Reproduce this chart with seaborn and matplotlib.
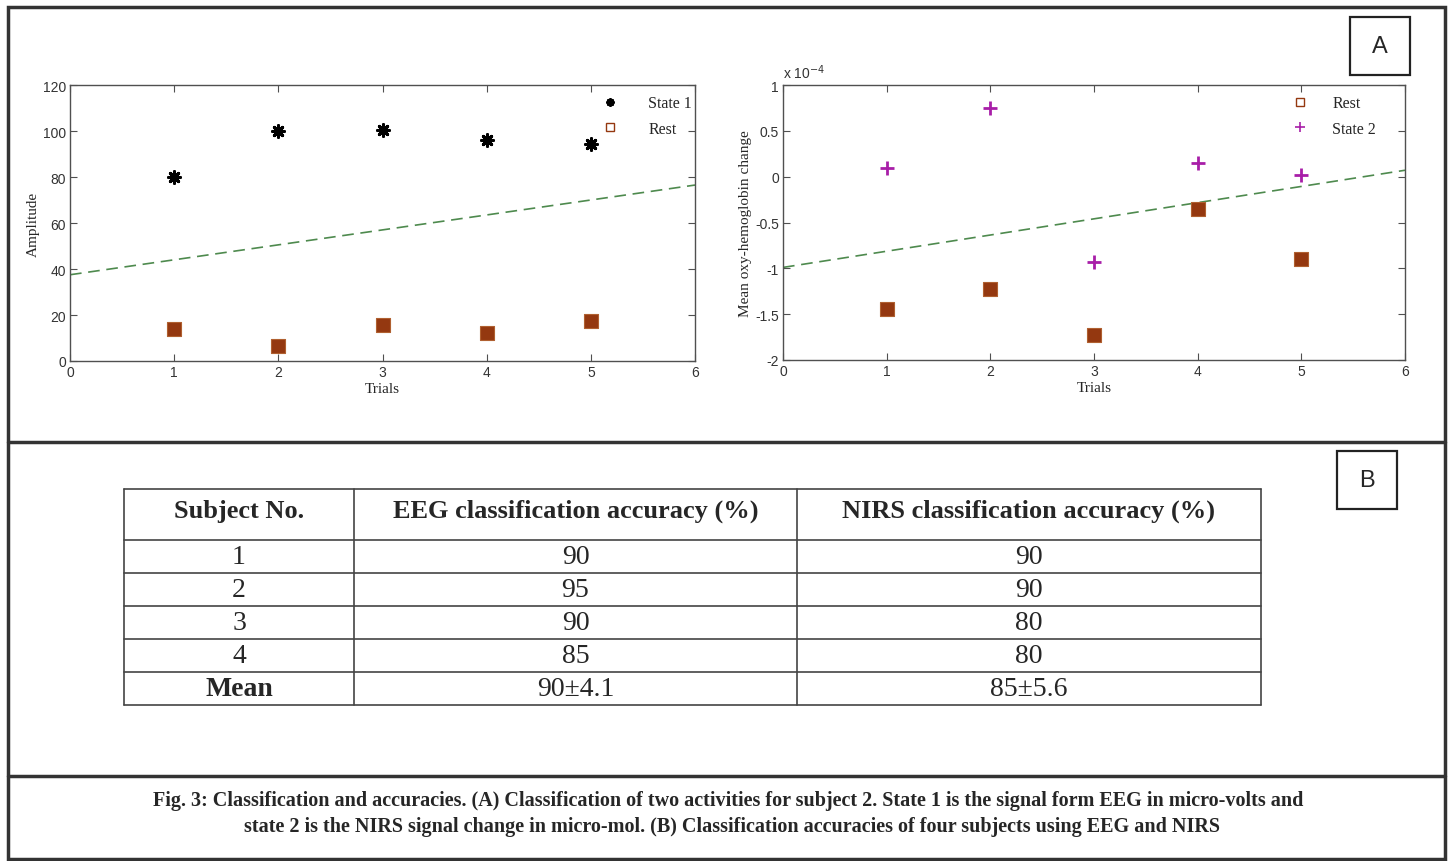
import matplotlib
matplotlib.use("Agg")
import matplotlib.pyplot as plt
from matplotlib.lines import Line2D
from matplotlib.patches import Rectangle
import seaborn as sns
import pandas as pd

# ---------------- data ----------------
trials = [1, 2, 3, 4, 5]
eeg_state1 = [80, 100, 100.5, 96, 94.5]
eeg_rest = [14, 6.5, 15.5, 12, 17.5]
eeg_boundary_x = [0, 6]
eeg_boundary_y = [37.5, 76.5]

# NIRS values in units of 1e-4
nirs_rest = [-1.44, -1.22, -1.73, -0.35, -0.90]
nirs_state2 = [0.10, 0.75, -0.93, 0.15, 0.02]
nirs_boundary_x = [0, 6]
nirs_boundary_y = [-0.99, 0.07]

eeg_yticks = [0, 20, 40, 60, 80, 100, 120]
nirs_yticks = [-2, -1.5, -1, -0.5, 0, 0.5, 1]
nirs_ytick_labels = ["-2", "-1.5", "-1", "-0.5", "0", "0.5", "1"]
xticks = [0, 1, 2, 3, 4, 5, 6]

table_header = ["Subject No.", "EEG classification accuracy (%)", "NIRS classification accuracy (%)"]
subjects = ["1", "2", "3", "4", "Mean"]
eeg_acc = ["90", "95", "90", "85", "90\u00b14.1"]
nirs_acc = ["90", "90", "80", "80", "85\u00b15.6"]

caption_line1 = ("Fig. 3: Classification and accuracies. (A) Classification of two activities for subject 2. "
                 "State 1 is the signal form EEG in micro-volts and")
caption_line2 = ("state 2 is the NIRS signal change in micro-mol. (B) Classification accuracies of four "
                 "subjects using EEG and NIRS")

# ---------------- style ----------------
sns.set_style("white")
plt.rcParams["font.family"] = ["Liberation Serif", "DejaVu Serif"]
plt.rcParams["axes.unicode_minus"] = False

W, H = 1453, 862
fig = plt.figure(figsize=(W / 100, H / 100), dpi=100)

BROWN = "#943810"
MAGENTA = "#a81ea8"
GREEN = "#4e8a4e"
SPINE = "#505050"
TICKFONT = ["Liberation Sans Narrow", "Liberation Sans", "DejaVu Sans"]
ASTERISK = (8, 2, 0)

# background frame
bg = fig.add_axes([0, 0, 1, 1])
bg.set_xlim(0, W)
bg.set_ylim(H, 0)
bg.axis("off")
bg.add_patch(Rectangle((8, 8), W - 16, H - 10, fill=False, lw=2.5, ec="#333333"))
bg.plot([8, W - 8], [443, 443], color="#333333", lw=2.5)
bg.plot([8, W - 8], [777, 777], color="#333333", lw=2.5)
bg.add_patch(Rectangle((1350, 18), 60, 58, fill=False, lw=1.6, ec="#222222"))
bg.text(1380, 47, "A", ha="center", va="center", fontsize=17, family=["Liberation Sans", "DejaVu Sans"])
bg.add_patch(Rectangle((1337, 452), 60, 58, fill=False, lw=1.6, ec="#222222"))
bg.text(1367, 481, "B", ha="center", va="center", fontsize=17, family=["Liberation Sans", "DejaVu Sans"])


def style_axes(ax):
    for s in ax.spines.values():
        s.set_color(SPINE)
        s.set_linewidth(1.0)
    ax.tick_params(direction="in", length=5, width=0.8, color=SPINE, top=True, right=True,
                   labelsize=10, pad=3, bottom=True, left=True)
    for lab in ax.get_xticklabels() + ax.get_yticklabels():
        lab.set_family(TICKFONT)
        lab.set_color("#333333")


# ---------------- left plot (EEG) ----------------
ax1 = fig.add_axes([70 / W, 1 - 362 / H, 625 / W, 276 / H])
df1 = pd.DataFrame({"trial": trials, "state1": eeg_state1, "rest": eeg_rest})
sns.lineplot(x=eeg_boundary_x, y=eeg_boundary_y, ax=ax1, color=GREEN, lw=1.2,
             linestyle=(0, (7, 4)))
sns.scatterplot(data=df1, x="trial", y="state1", ax=ax1, marker=ASTERISK, s=70, color="black",
                edgecolor="black", linewidth=2.2, zorder=3)
sns.scatterplot(data=df1, x="trial", y="rest", ax=ax1, marker="s", s=95, color=BROWN,
                edgecolor="#b06030", linewidth=0.8, zorder=3)
ax1.set_xlim(0, 6)
ax1.set_ylim(0, 120)
ax1.set_xticks(xticks)
ax1.set_yticks(eeg_yticks)
ax1.set_xlabel("Trials", fontsize=11, labelpad=2)
ax1.set_ylabel("Amplitude", fontsize=11, labelpad=2)
style_axes(ax1)
h1 = [Line2D([], [], ls="", marker=ASTERISK, color="black", ms=6, mew=1.5),
      Line2D([], [], ls="", marker="s", mfc="white", mec=BROWN, ms=6, mew=1)]
ax1.legend(h1, ["State 1", "Rest"], loc="upper right", frameon=False, fontsize=11.5,
           handlelength=1.0, handletextpad=1.9, labelspacing=0.6, borderaxespad=0.25,
           bbox_to_anchor=(1.012, 1.0))

# ---------------- right plot (NIRS) ----------------
ax2 = fig.add_axes([783 / W, 1 - 361 / H, 622 / W, 275 / H])
df2 = pd.DataFrame({"trial": trials, "rest": nirs_rest, "state2": nirs_state2})
sns.lineplot(x=nirs_boundary_x, y=nirs_boundary_y, ax=ax2, color=GREEN, lw=1.2,
             linestyle=(0, (7, 4)))
sns.scatterplot(data=df2, x="trial", y="rest", ax=ax2, marker="s", s=95, color=BROWN,
                edgecolor="#b06030", linewidth=0.8, zorder=3)
sns.scatterplot(data=df2, x="trial", y="state2", ax=ax2, marker="+", s=110, color=MAGENTA,
                linewidth=2, zorder=3)
ax2.set_xlim(0, 6)
ax2.set_ylim(-2, 1)
ax2.set_xticks(xticks)
ax2.set_yticks(nirs_yticks)
ax2.set_yticklabels(nirs_ytick_labels)
ax2.set_xlabel("Trials", fontsize=11, labelpad=2)
ax2.set_ylabel("Mean oxy-hemoglobin change", fontsize=11, labelpad=2)
ax2.text(0.0, 1.015, r"x 10$^{-4}$", transform=ax2.transAxes, fontsize=10,
         family=TICKFONT, color="#333333", va="bottom")
style_axes(ax2)
h2 = [Line2D([], [], ls="", marker="s", mfc="white", mec=BROWN, ms=6, mew=1),
      Line2D([], [], ls="", marker="+", color=MAGENTA, ms=7, mew=1.2)]
ax2.legend(h2, ["Rest", "State 2"], loc="upper right", frameon=False, fontsize=11.5,
           handlelength=1.0, handletextpad=1.5, labelspacing=0.6, borderaxespad=0.25,
           bbox_to_anchor=(0.97, 1.0))

# ---------------- table (B) ----------------
tx0, ty0, tx1, ty1 = 124, 490, 1261, 706
axt = fig.add_axes([tx0 / W, 1 - ty1 / H, (tx1 - tx0) / W, (ty1 - ty0) / H])
tw, th = tx1 - tx0, ty1 - ty0
axt.set_xlim(0, tw)
axt.set_ylim(th, 0)
axt.axis("off")
col_edges = [0, 230, 673, tw]
row_edges = [0, 51, 84, 117, 150, 183, th]
for x in col_edges:
    axt.plot([x, x], [0, th], color="#444444", lw=1.2, clip_on=False)
for y in row_edges:
    axt.plot([0, tw], [y, y], color="#444444", lw=1.2, clip_on=False)
for j, txt in enumerate(table_header):
    axt.text((col_edges[j] + col_edges[j + 1]) / 2, (row_edges[0] + row_edges[1]) / 2 - 4, txt,
             ha="center", va="center", fontsize=19, fontweight="bold")
columns = [subjects, eeg_acc, nirs_acc]
for i in range(len(subjects)):
    yc = (row_edges[i + 1] + row_edges[i + 2]) / 2
    for j, col in enumerate(columns):
        bold = (j == 0 and col[i] == "Mean")
        axt.text((col_edges[j] + col_edges[j + 1]) / 2, yc, col[i], ha="center", va="center",
                 fontsize=20, fontweight="bold" if bold else "normal")

# ---------------- caption ----------------
fig.text(728 / W, 1 - 801 / H, caption_line1, ha="center", va="center", fontsize=14.5,
         fontweight="bold")
fig.text(732 / W, 1 - 827 / H, caption_line2, ha="center", va="center", fontsize=14.5,
         fontweight="bold")

fig.savefig("out.png", dpi=100)
